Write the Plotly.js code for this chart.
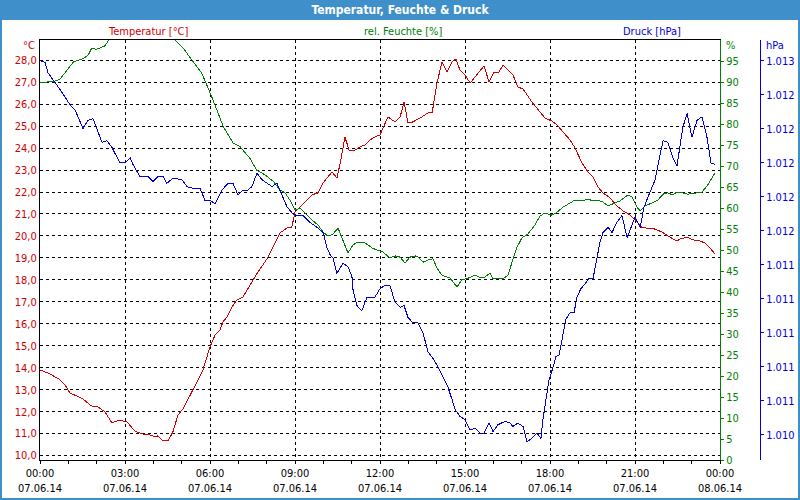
<!DOCTYPE html>
<html><head><meta charset="utf-8">
<script src="https://cdn.plot.ly/plotly-3.0.1.min.js"></script>
<style>html,body{margin:0;padding:0;background:#fff;overflow:hidden}#chart{width:800px;height:500px}
#chart path.js-line{shape-rendering:crispEdges}</style>
</head><body><div id="chart"></div>
<script>
// ---- data (hours since 07.06.14 00:00) ----
const tempHours = [0.00,0.35,0.71,0.88,1.06,1.31,1.52,1.76,1.87,2.05,2.29,2.54,2.82,3.07,3.35,3.60,3.88,4.06,4.16,4.34,4.52,4.69,4.87,5.05,5.22,5.40,5.58,5.75,6.00,6.18,6.35,6.46,6.60,6.78,6.95,7.16,7.34,7.52,7.69,7.87,8.05,8.22,8.40,8.47,8.72,8.89,9.00,9.11,9.35,9.60,9.81,9.99,10.13,10.31,10.48,10.62,10.76,10.91,11.12,11.29,11.47,11.65,11.82,12.00,12.28,12.53,12.71,12.85,12.99,13.16,13.48,13.69,13.84,14.01,14.19,14.36,14.54,14.68,14.82,15.00,15.18,15.35,15.49,15.67,15.85,16.02,16.20,16.34,16.52,16.69,16.87,17.05,17.36,17.58,17.82,18.07,18.25,18.46,18.71,18.88,19.13,19.34,19.52,19.69,19.87,20.12,20.36,20.58,20.82,21.05,21.22,21.40,21.68,21.95,22.16,22.48,22.59,22.84,23.05,23.29,23.47,23.65,23.82];
const tempValues = [13.90,13.72,13.45,13.22,12.85,12.72,12.58,12.31,12.22,12.22,11.99,11.49,11.62,11.53,11.12,10.99,10.94,10.85,10.90,10.67,10.67,11.08,11.85,12.13,12.54,12.99,13.45,13.90,14.95,15.49,15.72,16.09,16.31,16.77,17.09,17.22,17.63,18.00,18.36,18.68,19.04,19.50,20.00,20.14,20.36,20.41,21.09,21.23,21.55,21.87,21.96,22.41,22.64,22.91,22.64,23.46,24.51,23.91,23.91,24.05,24.14,24.37,24.51,24.60,25.42,25.19,25.42,26.10,25.14,25.19,25.42,25.60,25.60,26.96,27.92,27.46,27.92,28.06,27.56,27.33,26.96,27.24,27.46,27.74,27.01,27.46,27.46,27.78,27.56,27.33,26.78,26.69,26.10,25.73,25.37,25.23,25.05,24.73,24.37,24.01,23.32,22.91,22.69,22.23,21.96,21.73,21.37,21.14,20.96,20.68,20.41,20.36,20.32,20.18,20.00,19.77,19.86,19.95,19.82,19.77,19.68,19.45,19.18];

const humHours = [0.00,0.59,0.71,1.18,1.53,1.70,1.82,2.00,2.29,2.47,3.00,3.50,4.00,4.50,4.70,5.06,5.41,5.71,6.06,6.47,6.82,7.06,7.41,7.65,7.94,8.24,8.47,8.65,8.82,9.00,9.18,9.35,9.60,9.81,9.99,10.16,10.34,10.52,10.69,10.87,11.05,11.22,11.47,11.72,11.89,12.11,12.35,12.53,12.71,12.88,13.06,13.24,13.34,13.52,13.69,13.87,14.01,14.19,14.47,14.72,14.89,15.11,15.35,15.60,15.71,15.88,15.99,16.16,16.34,16.52,16.66,16.84,17.01,17.22,17.47,17.65,17.82,18.07,18.25,18.46,18.71,18.88,19.13,19.34,19.52,19.69,19.87,20.05,20.22,20.47,20.65,20.75,20.89,21.07,21.18,21.35,21.60,21.81,21.99,22.16,22.34,22.48,22.66,22.87,23.19,23.36,23.54,23.72,23.82];
const humValues = [89.8,90.3,90.7,94.8,95.6,96.4,98.0,97.8,98.6,100.4,102,102,102,102,100.4,98.0,94.8,92.1,86.5,79.4,75.4,74.6,71.8,69.0,67.9,66.3,64.3,63.6,61.9,59.5,60.0,58.8,57.1,56.0,54.3,53.3,53.8,55.2,52.4,49.3,51.2,51.9,51.7,50.5,50.0,49.5,48.1,48.6,48.3,46.9,48.3,48.6,48.3,47.1,47.6,47.9,45.7,44.0,43.3,41.2,42.9,43.3,44.0,43.3,43.6,44.5,43.1,43.3,43.1,44.0,47.1,50.7,52.9,53.8,56.0,58.1,58.8,58.3,59.0,60.2,61.2,61.9,61.7,62.1,61.7,61.9,61.4,60.5,61.0,61.7,62.6,63.1,62.6,60.2,59.3,60.5,61.2,61.9,63.3,63.6,63.1,63.8,63.6,63.3,63.6,63.8,65.2,67.1,68.3];

const pressHours = [0.00,0.18,0.28,0.46,0.71,0.95,1.06,1.24,1.52,1.69,1.87,2.05,2.19,2.36,2.54,2.82,3.00,3.18,3.28,3.53,3.81,3.99,4.16,4.34,4.48,4.69,5.01,5.19,5.40,5.65,5.82,6.00,6.18,6.42,6.64,6.81,6.99,7.16,7.34,7.48,7.66,7.84,8.01,8.19,8.36,8.47,8.72,8.93,9.07,9.28,9.53,9.78,9.99,10.13,10.24,10.34,10.48,10.59,10.69,10.87,11.01,11.05,11.19,11.36,11.54,11.82,12.00,12.18,12.35,12.53,12.71,12.85,12.99,13.16,13.34,13.52,13.69,13.87,14.05,14.22,14.40,14.54,14.65,14.82,15.00,15.18,15.35,15.53,15.67,15.85,15.99,16.16,16.41,16.59,16.69,16.87,17.05,17.19,17.36,17.54,17.68,17.75,17.86,17.96,18.11,18.21,18.32,18.46,18.56,18.71,18.85,18.95,19.09,19.24,19.38,19.52,19.66,19.76,19.87,20.05,20.19,20.36,20.54,20.72,20.86,21.00,21.18,21.32,21.46,21.71,21.85,21.99,22.16,22.34,22.48,22.69,22.84,23.01,23.19,23.36,23.54,23.68,23.82];
const pressValues = [1012.60,1012.59,1012.53,1012.49,1012.43,1012.37,1012.34,1012.31,1012.20,1012.25,1012.26,1012.18,1012.12,1012.13,1012.09,1012.00,1012.00,1012.03,1011.99,1011.92,1011.92,1011.89,1011.92,1011.92,1011.88,1011.91,1011.90,1011.86,1011.85,1011.85,1011.78,1011.78,1011.76,1011.84,1011.88,1011.88,1011.81,1011.84,1011.84,1011.86,1011.94,1011.90,1011.88,1011.86,1011.88,1011.84,1011.74,1011.70,1011.69,1011.69,1011.65,1011.62,1011.59,1011.50,1011.46,1011.44,1011.35,1011.38,1011.41,1011.39,1011.33,1011.25,1011.16,1011.13,1011.21,1011.21,1011.26,1011.28,1011.28,1011.18,1011.15,1011.16,1011.09,1011.06,1011.06,1011.00,1010.89,1010.85,1010.80,1010.74,1010.68,1010.61,1010.55,1010.51,1010.49,1010.43,1010.44,1010.41,1010.41,1010.47,1010.42,1010.46,1010.48,1010.47,1010.45,1010.47,1010.45,1010.36,1010.38,1010.41,1010.38,1010.49,1010.61,1010.72,1010.80,1010.86,1010.87,1010.98,1011.08,1011.12,1011.12,1011.21,1011.26,1011.29,1011.32,1011.32,1011.45,1011.53,1011.59,1011.62,1011.59,1011.65,1011.69,1011.56,1011.62,1011.68,1011.62,1011.74,1011.80,1011.90,1012.02,1012.13,1012.12,1012.03,1011.98,1012.21,1012.29,1012.15,1012.25,1012.27,1012.15,1012.00,1011.99];

// ---- tick labels ----
const timeTickHours = [0,3,6,9,12,15,18,21,24];
const timeTickTimes = ["00:00","03:00","06:00","09:00","12:00","15:00","18:00","21:00","00:00"];
const timeTickDates = ["07.06.14","07.06.14","07.06.14","07.06.14","07.06.14","07.06.14","07.06.14","07.06.14","08.06.14"];
const tempTicks = [10,11,12,13,14,15,16,17,18,19,20,21,22,23,24,25,26,27,28];
const humTicks = [0,5,10,15,20,25,30,35,40,45,50,55,60,65,70,75,80,85,90,95];
const pressTicks = [1010.4,1010.6,1010.8,1011.0,1011.2,1011.4,1011.6,1011.8,1012.0,1012.2,1012.4,1012.6];
const pressTickLabels = ["1.010","1.011","1.011","1.011","1.011","1.011","1.012","1.012","1.012","1.012","1.012","1.013"];

const FONT = "DejaVu Sans Condensed, DejaVu Sans, Verdana, sans-serif";
const RED = "#d00000", GREEN = "#008000", BLUE = "#0000dd", BAR = "#3f8fca";

// pixel helpers for paper coords (plot paper: x 40..760, y 40..460)
const px = v => (v - 40) / 720;
const py = v => (460 - v) / 420;

const traces = [
  {x: tempHours, y: tempValues, type: 'scatter', mode: 'lines', line: {color: RED, width: 1}, yaxis: 'y', name: 'Temperatur'},
  {x: humHours, y: humValues, type: 'scatter', mode: 'lines', line: {color: GREEN, width: 1}, yaxis: 'y2', name: 'Feuchte'},
  {x: pressHours, y: pressValues, type: 'scatter', mode: 'lines', line: {color: BLUE, width: 1}, yaxis: 'y3', name: 'Druck'}
];

const layout = {
  width: 800, height: 500,
  margin: {l: 40, r: 40, t: 40, b: 40, pad: 0},
  paper_bgcolor: '#ffffff', plot_bgcolor: '#ffffff',
  showlegend: false,
  separators: ',.',
  font: {family: FONT, size: 11, color: '#000'},
  title: {text: '<b>Temperatur, Feuchte &amp; Druck</b>', x: 0.5, xref: 'container', y: 0.98, yref: 'container', yanchor: 'middle',
          font: {family: FONT, size: 12, color: '#ffffff'}},
  xaxis: {
    domain: [0, 680/720], range: [0, 24], showline: true, linecolor: '#000', linewidth: 1, mirror: true,
    tickmode: 'array', tickvals: timeTickHours,
    ticktext: timeTickHours.map((h, i) => timeTickTimes[i] + '<br>' + timeTickDates[i]),
    ticks: 'outside', ticklen: 3, tickcolor: '#000',
    showgrid: true, gridcolor: '#000', gridwidth: 1, griddash: '3px,3px', zeroline: false,
    minor: {tickmode: 'linear', tick0: 0, dtick: 1, ticks: 'outside', ticklen: 3, tickcolor: '#000', showgrid: false},
    tickfont: {family: FONT, size: 11, color: '#000'}
  },
  yaxis: {
    range: [9.80, 28.92], showline: true, linecolor: '#000', linewidth: 1,
    tickmode: 'array', tickvals: tempTicks, tickformat: '.1f', ticks: '',
    showgrid: true, gridcolor: '#000', gridwidth: 1, griddash: '3px,3px', zeroline: false,
    tickfont: {family: FONT, size: 11, color: RED}
  },
  yaxis2: {
    range: [0, 100], overlaying: 'y', side: 'right', anchor: 'x',
    showline: true, linecolor: GREEN, linewidth: 1,
    tickmode: 'array', tickvals: humTicks, ticks: 'outside', ticklen: 3, tickcolor: GREEN,
    showgrid: false, zeroline: false,
    tickfont: {family: FONT, size: 11, color: GREEN}
  },
  yaxis3: {
    range: [1010.253, 1012.722], overlaying: 'y', side: 'right', anchor: 'free', position: 1,
    showline: true, linecolor: BLUE, linewidth: 1,
    tickmode: 'array', tickvals: pressTicks, ticktext: pressTickLabels, ticks: 'outside', ticklen: 3, tickcolor: BLUE,
    showgrid: false, zeroline: false,
    tickfont: {family: FONT, size: 11, color: BLUE}
  },
  shapes: [
    {type: 'rect', xref: 'paper', yref: 'paper', x0: px(0), x1: px(800), y0: py(20), y1: py(0), fillcolor: BAR, line: {width: 0}, layer: 'below'},
    {type: 'rect', xref: 'paper', yref: 'paper', x0: px(1), x1: px(799), y0: py(499), y1: py(1), line: {color: BAR, width: 2}, fillcolor: 'rgba(0,0,0,0)'}
  ],
  annotations: [
    {text: 'Temperatur [°C]', xref: 'paper', yref: 'paper', x: px(148), y: py(31), xanchor: 'center', yanchor: 'middle', showarrow: false, font: {family: FONT, size: 11, color: RED}},
    {text: 'rel. Feuchte [%]', xref: 'paper', yref: 'paper', x: px(403), y: py(31), xanchor: 'center', yanchor: 'middle', showarrow: false, font: {family: FONT, size: 11, color: GREEN}},
    {text: 'Druck [hPa]', xref: 'paper', yref: 'paper', x: px(652), y: py(31), xanchor: 'center', yanchor: 'middle', showarrow: false, font: {family: FONT, size: 11, color: BLUE}},
    {text: '°C', xref: 'paper', yref: 'paper', x: px(37), y: py(46), xanchor: 'right', yanchor: 'middle', showarrow: false, font: {family: FONT, size: 11, color: RED}},
    {text: '%', xref: 'paper', yref: 'paper', x: px(724), y: py(46), xanchor: 'left', yanchor: 'middle', showarrow: false, font: {family: FONT, size: 11, color: GREEN}},
    {text: 'hPa', xref: 'paper', yref: 'paper', x: px(764), y: py(46), xanchor: 'left', yanchor: 'middle', showarrow: false, font: {family: FONT, size: 11, color: BLUE}}
  ]
};

Plotly.newPlot('chart', traces, layout, {staticPlot: true, displayModeBar: false});
</script>
</body></html>
